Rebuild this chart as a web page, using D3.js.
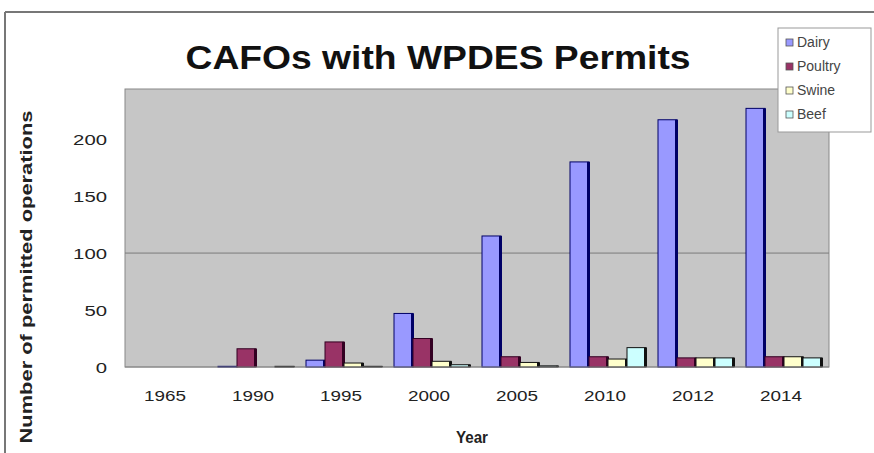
<!DOCTYPE html>
<html>
<head>
<meta charset="utf-8">
<script src="https://cdnjs.cloudflare.com/ajax/libs/d3/7.8.5/d3.min.js"></script>
<style>
body { margin: 0; background: #fff; }
text { font-family: Arial, "Liberation Sans", sans-serif; }
</style>
</head>
<body>
<script>
var years = ['1965', '1990', '1995', '2000', '2005', '2010', '2012', '2014'];
var seriesNames = ['Dairy', 'Poultry', 'Swine', 'Beef'];
var dairy   = [0, 0.6, 6, 47, 115, 180, 217, 227];
var poultry = [0, 16, 22, 25, 9, 9, 8, 9];
var swine   = [0, 0, 3.5, 5, 4, 7, 8, 9];
var beef    = [0, 0.6, 0.6, 2, 1, 17, 8, 8];
var yTicks  = [0, 50, 100, 150, 200];

var fills = ['#9999ff', '#993366', '#ffffcc', '#ccffff'];
var edges = ['#000066', '#330022', '#111111', '#111111'];
var allSeries = [dairy, poultry, swine, beef];

var W = 874, H = 453;
var svg = d3.select('body').append('svg').attr('width', W).attr('height', H);

// outer chart frame
svg.append('line').attr('x1', 5).attr('x2', W).attr('y1', 12).attr('y2', 12)
    .attr('stroke', '#777').attr('stroke-width', 2);
svg.append('line').attr('x1', 5).attr('x2', 5).attr('y1', 12).attr('y2', H)
    .attr('stroke', '#777').attr('stroke-width', 2);

var plotLeft = 125, plotRight = 829, plotTop = 89, plotBottom = 367;

var x = d3.scaleBand().domain(years).range([plotLeft, plotRight]).paddingInner(0).paddingOuter(0);
var xs = d3.scaleBand().domain(seriesNames).range([5, x.bandwidth() - 7]).padding(0);
var y = d3.scaleLinear().domain([0, 244]).range([plotBottom, plotTop]);

svg.append('rect').attr('x', plotLeft).attr('y', plotTop)
    .attr('width', plotRight - plotLeft).attr('height', plotBottom - plotTop)
    .attr('fill', '#c6c6c6').attr('stroke', '#888').attr('stroke-width', 1);

// gridline at 100
svg.append('line').attr('x1', plotLeft).attr('x2', plotRight).attr('y1', y(100)).attr('y2', y(100))
    .attr('stroke', '#7a7a7a').attr('stroke-width', 1);

var groups = svg.selectAll('g.year').data(years).enter().append('g')
    .attr('class', 'year')
    .attr('transform', function(d) { return 'translate(' + x(d) + ',0)'; });

seriesNames.forEach(function(s, si) {
    groups.each(function(d, i) {
        var v = allSeries[si][i];
        if (v <= 0) return;
        var g = d3.select(this);
        var bx = xs(s), bw = xs.bandwidth();
        var h = plotBottom - y(v);
        g.append('rect').attr('x', bx).attr('y', y(v)).attr('width', bw).attr('height', h)
            .attr('fill', fills[si]).attr('stroke', edges[si]).attr('stroke-width', 1);
        g.append('rect').attr('x', bx + bw - 2).attr('y', y(v)).attr('width', 3).attr('height', h)
            .attr('fill', edges[si]);
    });
});

// axes
svg.append('line').attr('x1', plotLeft).attr('x2', plotRight).attr('y1', plotBottom).attr('y2', plotBottom)
    .attr('stroke', '#888');
svg.selectAll('text.ytick').data(yTicks).enter().append('text')
    .attr('class', 'ytick')
    .attr('x', 107).attr('y', function(d) { return y(d) + 6; })
    .attr('text-anchor', 'end').attr('font-size', 15).attr('fill', '#222')
    .attr('textLength', function(d) { return String(d).length * 11.3; })
    .attr('lengthAdjust', 'spacingAndGlyphs')
    .text(function(d) { return d; });

svg.selectAll('text.xtick').data(years).enter().append('text')
    .attr('class', 'xtick')
    .attr('x', function(d) { return x(d) + x.bandwidth() / 2 - 4; })
    .attr('y', 401)
    .attr('text-anchor', 'middle').attr('font-size', 15).attr('fill', '#222')
    .attr('textLength', 42).attr('lengthAdjust', 'spacingAndGlyphs')
    .text(function(d) { return d; });

svg.append('text').attr('x', 472).attr('y', 443).attr('text-anchor', 'middle')
    .attr('font-size', 16).attr('font-weight', 'bold').attr('fill', '#222')
    .attr('textLength', 32).attr('lengthAdjust', 'spacingAndGlyphs').text('Year');

svg.append('text').attr('transform', 'translate(32,277) rotate(-90)').attr('text-anchor', 'middle')
    .attr('font-size', 17).attr('font-weight', 'bold').attr('fill', '#222')
    .attr('textLength', 333).attr('lengthAdjust', 'spacingAndGlyphs')
    .text('Number of permitted operations');

svg.append('text').attr('x', 438).attr('y', 69).attr('text-anchor', 'middle')
    .attr('font-size', 33).attr('font-weight', 'bold').attr('fill', '#111')
    .attr('textLength', 505).attr('lengthAdjust', 'spacingAndGlyphs')
    .text('CAFOs with WPDES Permits');

// legend
var lg = svg.append('g').attr('transform', 'translate(778,28)');
lg.append('rect').attr('x', 0).attr('y', 0).attr('width', 93).attr('height', 104)
    .attr('fill', '#fff').attr('stroke', '#999');
var items = lg.selectAll('g.item').data(seriesNames).enter().append('g')
    .attr('class', 'item')
    .attr('transform', function(d, i) { return 'translate(8,' + (16 + i * 24) + ')'; });
items.append('rect').attr('x', 0).attr('y', -5).attr('width', 7).attr('height', 7)
    .attr('fill', function(d, i) { return fills[i]; }).attr('stroke', '#555').attr('stroke-width', 0.8);
items.append('text').attr('x', 11).attr('y', 3).attr('font-size', 14).attr('fill', '#444')
    .text(function(d) { return d; });
</script>
</body>
</html>
